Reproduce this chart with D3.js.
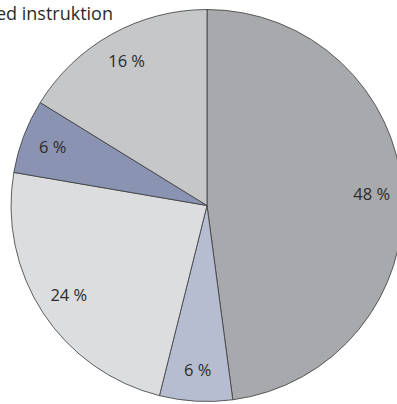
<!DOCTYPE html>
<html>
<head>
<meta charset="utf-8">
<script src="https://cdn.jsdelivr.net/npm/d3@7"></script>
<style>
  html, body { margin: 0; padding: 0; background: #ffffff; overflow: hidden; }
  svg { display: block; }
</style>
</head>
<body>
<svg id="chart" width="397" height="404"></svg>
<script>
// Data
const categories = ["A", "B", "C", "D", "E"];
const values = [47.9, 6.0, 23.8, 6.1, 16.2];
const labels = ["48 %", "6 %", "24 %", "6 %", "16 %"];
const colors = ["#a8a9ac", "#b7bdd0", "#dcdddf", "#8a93b2", "#c6c7c9"];
const titleText = "ed instruktion";

const svg = d3.select("#chart");
const cx = 207, cy = 205.5, r = 196;

svg.append("text")
  .attr("x", 113)
  .attr("y", 20)
  .attr("text-anchor", "end")
  .attr("font-family", "'Open Sans', sans-serif")
  .attr("font-size", 18)
  .attr("fill", "#2b2b2b")
  .text(titleText);

const pie = d3.pie().sort(null).value(d => d.v);
const arcs = pie(categories.map((c, i) => ({ c, v: values[i], label: labels[i], color: colors[i] })));

const arc = d3.arc().innerRadius(0).outerRadius(r);
const labelArc = d3.arc().innerRadius(165).outerRadius(165);

const g = svg.append("g").attr("transform", `translate(${cx},${cy})`);

g.selectAll("path")
  .data(arcs)
  .join("path")
  .attr("d", arc)
  .attr("fill", d => d.data.color)
  .attr("stroke", "#3a3a3a")
  .attr("stroke-width", 0.8)
  .attr("stroke-linejoin", "round");

g.selectAll("text.lbl")
  .data(arcs)
  .join("text")
  .attr("class", "lbl")
  .attr("transform", d => `translate(${labelArc.centroid(d)})`)
  .attr("text-anchor", "middle")
  .attr("dy", "0.35em")
  .attr("font-family", "'Open Sans', sans-serif")
  .attr("font-size", 16.5)
  .attr("fill", "#2b2b2b")
  .text(d => d.data.label);
</script>
</body>
</html>
